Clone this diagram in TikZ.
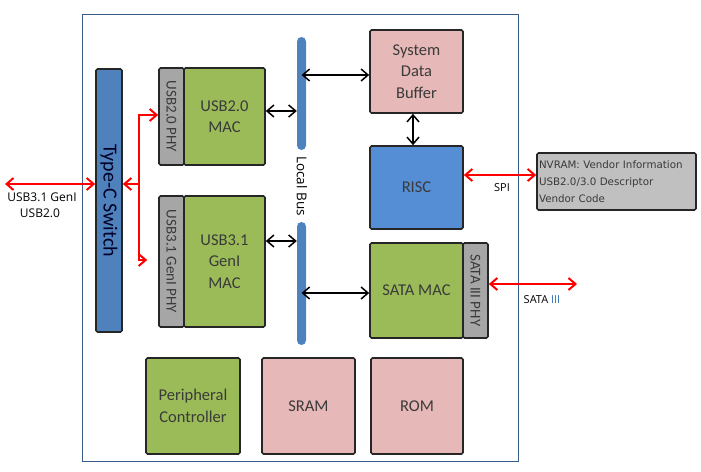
\documentclass[tikz,border=0pt]{standalone}
\usepackage{fontspec}
\setmainfont{Carlito}
\newfontfamily\uifont{Open Sans}
\newfontfamily\nvfont{DejaVu Sans}
\usepackage{graphicx}
\usepackage{tikz}
\usetikzlibrary{arrows.meta,positioning,calc}
\definecolor{macgreen}{HTML}{9BBB59}
\definecolor{mempink}{HTML}{E6B9B8}
\definecolor{switchblue}{HTML}{4F81BD}
\definecolor{riscblue}{HTML}{558ED5}
\definecolor{phygray}{HTML}{A6A6A6}
\definecolor{nvgray}{HTML}{C0C0C0}
\definecolor{boxline}{HTML}{262626}
\definecolor{boxtext}{HTML}{3A3A3A}
\definecolor{framecol}{HTML}{385D8A}
\definecolor{iiiblue}{HTML}{2E75B6}
\definecolor{linkred}{HTML}{FF0000}
\tikzstyle{blk}=[draw=boxline,line width=1.6pt,rounded corners=1.5pt,inner sep=0pt,text=boxtext,align=center,font=\fontsize{16.5}{21.5}\selectfont]
\tikzstyle{macblk}=[blk,fill=macgreen]
\tikzstyle{memblk}=[blk,fill=mempink]
\tikzstyle{phyblk}=[blk,fill=phygray,font=\fontsize{15}{17}\selectfont]
\tikzstyle{switchbar}=[blk,fill=switchblue,text=black!85!blue,font=\fontsize{20}{22}\selectfont]
\tikzstyle{busbar}=[fill=switchblue,rounded corners=4.5pt,minimum width=9,inner sep=0pt]
\tikzstyle{uilbl}=[inner sep=0pt,font=\uifont\fontsize{12}{14}\selectfont]
\tikzstyle{redarrow}=[linkred,line width=2pt]
\tikzstyle{blkarrow}=[black,line width=1.5pt,<->]

\begin{document}
\begin{tikzpicture}[x=1pt,y=-1pt,>={Straight Barb[length=7pt,width=12pt]}]
    \useasboundingbox (0,0) rectangle (701,471);
    % chip outline
    \draw[framecol,line width=1pt] (82,14) rectangle (518,461);

    % usb side
    \node [switchbar,minimum width=26,minimum height=263] (tcsw) at (109,200.5) {\rotatebox{-90}{Type-C Switch}};
    \node [phyblk,minimum width=25,minimum height=97] (phyA) at (171.5,116.5) {\rotatebox{-90}{USB2.0 PHY}};
    \node [macblk,minimum width=81,minimum height=97] (macA) at (224.5,116.5) {USB2.0\\MAC};
    \node [phyblk,minimum width=25,minimum height=131] (phyB) at (171.5,261.5) {\rotatebox{-90}{USB3.1 GenI PHY}};
    \node [macblk,minimum width=81,minimum height=131] (macB) at (224.5,261.5) {USB3.1\\GenI\\MAC};

    % local bus
    \node [busbar,minimum height=113] (busA) at (301.5,93.5) {};
    \node [busbar,minimum height=123] (busB) at (301.5,283.5) {};
    \node [inner sep=0pt,font=\uifont\fontsize{13.5}{15}\selectfont] (buslbl) at (302,186) {\rotatebox{-90}{Local Bus}};

    % right column
    \node [memblk,minimum width=93,minimum height=83] (sdb) at (416.5,71.5) {System\\Data\\Buffer};
    \node [blk,fill=riscblue,minimum width=93,minimum height=83] (risc) at (416.5,187.5) {RISC};
    \node [macblk,minimum width=93,minimum height=95] (sata) at (416.5,290.5) {SATA MAC};
    \node [phyblk,minimum width=25,minimum height=95] (phyC) at (475.5,290.5) {\rotatebox{-90}{SATA III PHY}};

    % bottom row
    \node [macblk,minimum width=94,minimum height=96] (periph) at (193,406) {Peripheral\\Controller};
    \node [memblk,minimum width=93,minimum height=96] (sram) at (308.5,406) {SRAM};
    \node [memblk,minimum width=92,minimum height=96] (rom) at (417,406) {ROM};

    \node [blk,fill=nvgray,minimum width=159,minimum height=57,text width=155,align=left,inner xsep=2pt,font=\nvfont\fontsize{10.3}{17}\selectfont] (nvram) at (616.5,181.5) {NVRAM: Vendor Information\\USB2.0/3.0 Descriptor\\Vendor Code};

    % usb links
    \coordinate (usbext) at (5,184);
    \coordinate (jn) at (139,184);
    \coordinate (phyAin) at ($(phyA.west)+(0,-1.5)$);
    \coordinate (phyBin) at ($(phyB.west)+(-11,-1.5)$);
    \draw [redarrow,<->] (usbext) -- (usbext -| tcsw.west);
    \draw [redarrow,->] (jn) -- (jn -| tcsw.east);
    \draw [redarrow,->] (jn) |- (phyAin);
    \draw [redarrow,->] (jn) |- (phyBin);
    \node [uilbl] (usblblA) at (42,197) {USB3.1 GenI};
    \node [uilbl] (usblblB) at (40,213) {USB2.0};

    % bus links
    \coordinate (macAout) at ($(macA.east)+(0,-5.5)$);
    \coordinate (macBout) at ($(macB.east)+(0,-20.5)$);
    \coordinate (sdbin) at ($(sdb.west)+(0,3.5)$);
    \coordinate (satain) at ($(sata.west)+(0,2.5)$);
    \draw [blkarrow] (macAout) -- (macAout -| busA.west);
    \draw [blkarrow] (macBout) -- (macBout -| busB.west);
    \draw [blkarrow] (busA.center |- sdbin) -- (sdbin);
    \draw [blkarrow] (busB.center |- satain) -- (satain);
    \draw [blkarrow] ([xshift=-3.5pt]sdb.south) -- ([xshift=-3.5pt]risc.north);

    % external links
    \coordinate (spiout) at ($(risc.east)+(0,-12.5)$);
    \draw [redarrow,<->] (spiout) -- (spiout -| nvram.west);
    \node [uilbl,font=\uifont\fontsize{11}{13}\selectfont] (spilbl) at (502,188) {SPI};
    \coordinate (sataout) at ($(phyC.east)+(0,-6.5)$);
    \coordinate (sataext) at (577,284);
    \draw [redarrow,<->] (sataout) -- (sataext);
    \node [uilbl,font=\uifont\fontsize{11}{13}\selectfont] (satalbl) at (542,300) {SATA \textcolor{iiiblue}{III}};
\end{tikzpicture}
\end{document}
